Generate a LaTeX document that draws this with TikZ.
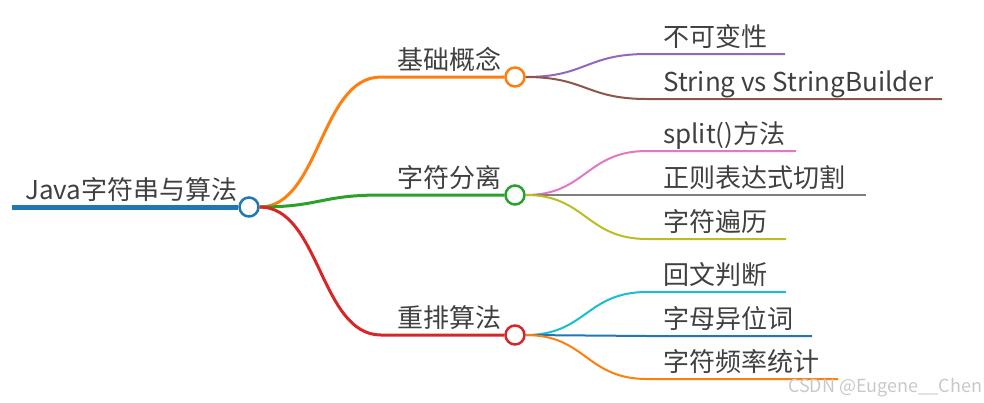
\documentclass[tikz,border=0pt]{standalone}
\usepackage{fontspec}
\setmainfont{Noto Sans CJK SC}
\definecolor{cblue}{HTML}{1F77B4}
\definecolor{corange}{HTML}{FF7F0E}
\definecolor{cgreen}{HTML}{2CA02C}
\definecolor{cred}{HTML}{D62728}
\definecolor{cpurple}{HTML}{9467BD}
\definecolor{cbrown}{HTML}{8C564B}
\definecolor{cpink}{HTML}{E377C2}
\definecolor{cgray}{HTML}{7F7F7F}
\definecolor{colive}{HTML}{BCBD22}
\definecolor{ccyan}{HTML}{17BECF}
\definecolor{textgray}{HTML}{404040}
\definecolor{wmgray}{HTML}{C8C8C8}
\begin{document}
\begin{tikzpicture}[x=1pt,y=-1pt,
  txt/.style={anchor=base west, inner sep=0pt, text=textgray, font=\fontsize{26}{26}\selectfont},
  dot/.style={circle, draw=#1, fill=white, line width=2.5pt, minimum size=19pt, inner sep=0pt},
  rootline/.style={line width=5pt},
  branchline/.style={line width=3pt},
  leafline/.style={line width=2pt},
  wm/.style={anchor=base west, inner sep=0pt, text=wmgray, font=\fontsize{18}{18}\selectfont}]
\useasboundingbox (0,0) rectangle (984,402);

% root
\coordinate (rs) at (12,207);
\node[dot=cblue] (root) at (249,207) {};
\draw[cblue, rootline] (rs) -- (root.west);
\node[txt] (roott) at (25,199) {Java字符串与算法};

% branch circles
\node[dot=corange] (b1) at (515,77) {};
\node[dot=cgreen] (b2) at (515,195) {};
\node[dot=cred] (b3) at (515,335) {};
\coordinate (b1s) at (381,77);
\coordinate (b2s) at (381,195);
\coordinate (b3s) at (381,335);

\draw[corange, branchline] (root.east) .. controls (320,207) and (320,77) .. (b1s) -- (b1.west);
\draw[cgreen, branchline] (root.east) .. controls (320,207) and (320,195) .. (b2s) -- (b2.west);
\draw[cred, branchline] (root.east) .. controls (320,207) and (320,335) .. (b3s) -- (b3.west);

\node[txt] (b1t) at (397,69) {基础概念};
\node[txt] (b2t) at (397,187) {字符分离};
\node[txt] (b3t) at (397,327) {重排算法};

% leaves of branch 1
\coordinate (l11s) at (647,54);  \coordinate (l11e) at (785,54);
\coordinate (l12s) at (647,99);  \coordinate (l12e) at (942,99);
\draw[cpurple, leafline] (b1.east) .. controls (586,77) and (586,54) .. (l11s) -- (l11e);
\draw[cbrown, leafline] (b1.east) .. controls (586,77) and (586,99) .. (l12s) -- (l12e);
\node[txt] (l11) at (663,46) {不可变性};
\node[txt] (l12) at (663,91) {String vs StringBuilder};

% leaves of branch 2
\coordinate (l21s) at (647,151); \coordinate (l21e) at (796,151);
\coordinate (l22s) at (647,195); \coordinate (l22e) at (866,195);
\coordinate (l23s) at (647,239); \coordinate (l23e) at (786,239);
\draw[cpink, leafline] (b2.east) .. controls (586,195) and (586,151) .. (l21s) -- (l21e);
\draw[cgray, leafline] (b2.east) -- (l22s) -- (l22e);
\draw[colive, leafline] (b2.east) .. controls (586,195) and (586,239) .. (l23s) -- (l23e);
\node[txt] (l21) at (663,143) {split()方法};
\node[txt] (l22) at (663,187) {正则表达式切割};
\node[txt] (l23) at (663,231) {字符遍历};

% leaves of branch 3
\coordinate (l31s) at (647,292); \coordinate (l31e) at (786,292);
\coordinate (l32s) at (647,336); \coordinate (l32e) at (812,336);
\coordinate (l33s) at (647,379); \coordinate (l33e) at (838,379);
\draw[ccyan, leafline] (b3.east) .. controls (586,335) and (586,292) .. (l31s) -- (l31e);
\draw[cblue, leafline] (b3.east) -- (l32s) -- (l32e);
\draw[corange, leafline] (b3.east) .. controls (586,335) and (586,379) .. (l33s) -- (l33e);
\node[txt] (l31) at (663,284) {回文判断};
\node[txt] (l32) at (663,328) {字母异位词};
\node[txt] (l33) at (663,371) {字符频率统计};

% watermark
\node[wm] (wmark) at (788,392) {CSDN @Eugene\_\_Chen};
\end{tikzpicture}
\end{document}
